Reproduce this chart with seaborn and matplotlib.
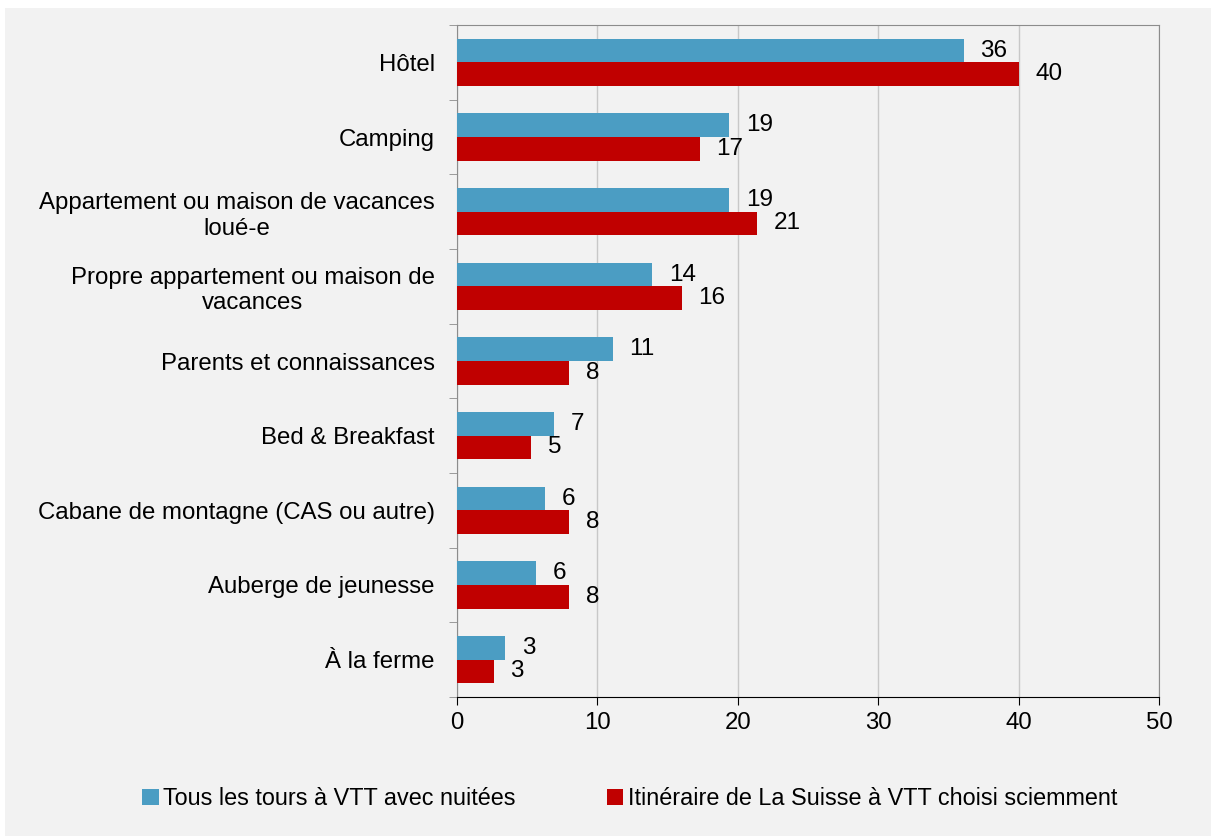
import pandas as pd
import seaborn as sns
import matplotlib.pyplot as plt
from matplotlib.patches import Rectangle

# Données (en %)
categories = [
    "Hôtel",
    "Camping",
    "Appartement ou maison de vacances\nloué-e",
    "Propre appartement ou maison de\nvacances",
    "Parents et connaissances",
    "Bed & Breakfast",
    "Cabane de montagne (CAS ou autre)",
    "Auberge de jeunesse",
    "À la ferme",
]
series = ["Tous les tours à VTT avec nuitées",
          "Itinéraire de La Suisse à VTT choisi sciemment"]
tous_tours = [36.1, 19.4, 19.4, 13.9, 11.1, 6.9, 6.3, 5.6, 3.45]
itineraire = [40.0, 17.3, 21.4, 16.0, 8.0, 5.3, 8.0, 8.0, 2.6]
couleurs = ["#4b9dc3", "#c00000"]

df = pd.DataFrame({
    "Hebergement": categories * 2,
    "Serie": [series[0]] * len(categories) + [series[1]] * len(categories),
    "Valeur": tous_tours + itineraire,
})

gris = "#f2f2f2"
plt.rcParams['font.family'] = ['Liberation Sans', 'DejaVu Sans']

fig = plt.figure(figsize=(12.11, 8.36), dpi=100)
fig.patch.set_facecolor("white")
fig.patches.append(Rectangle((5 / 1211, 0), 1, 1 - 8 / 836, transform=fig.transFigure,
                             facecolor=gris, edgecolor="none", zorder=-1))

ax = fig.add_axes([457 / 1211, 1 - 697 / 836, (1159 - 457) / 1211, (697 - 25) / 836])
ax.set_facecolor(gris)

sns.barplot(data=df, y="Hebergement", x="Valeur", hue="Serie", hue_order=series,
            palette=couleurs, orient="h", width=0.63, saturation=1, ax=ax, zorder=3)

for cont in ax.containers:
    ax.bar_label(cont, labels=[f"{v:.0f}" for v in cont.datavalues],
                 padding=12, fontsize=17.5, zorder=4)

ax.set_xlim(0, 50)
ax.set_ylim(len(categories) - 0.5, -0.5)
ax.set_xticks(range(0, 51, 10))
ax.grid(axis="x", color="#c8c8c8", linewidth=1, zorder=0)
ax.grid(axis="y", visible=False)
ax.set_xlabel("")
ax.set_ylabel("")

ax.tick_params(axis="x", labelsize=17.3, length=6, color="black", pad=5)
ax.tick_params(axis="y", which="major", labelsize=17.3, length=0, pad=16)
ax.set_yticks([i - 0.5 for i in range(len(categories) + 1)], minor=True)
ax.tick_params(axis="y", which="minor", length=6, color="#8c8c8c")
for lab in ax.get_yticklabels():
    lab.set_multialignment("center")

for side in ["top", "right", "left"]:
    ax.spines[side].set_color("#8c8c8c")
ax.spines["bottom"].set_color("black")

ax.legend(handles=ax.get_legend_handles_labels()[0], labels=series,
          loc="center", bbox_to_anchor=(0.52, 0.045), bbox_transform=fig.transFigure,
          ncol=2, frameon=False, fontsize=16.8, handlelength=0.7, handleheight=0.7,
          handletextpad=0.2, columnspacing=3.9)

fig.savefig("out.png", dpi=100)
